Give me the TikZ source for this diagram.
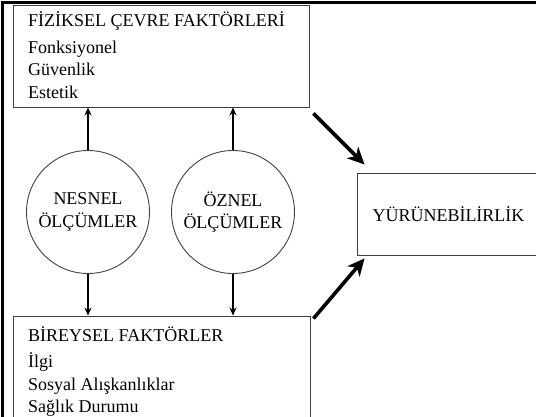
\documentclass[tikz,border=0pt]{standalone}
\usepackage{fontspec}
\setmainfont{Liberation Serif}
\usetikzlibrary{arrows.meta,calc}
\tikzset{
  box/.style={draw=black!75, line width=0.9pt, rectangle, inner sep=0pt},
  circ/.style={draw=black!75, line width=0.9pt, circle, minimum size=123pt, inner sep=0pt, align=center, font=\fontsize{18}{22.5}\selectfont},
  txt/.style={anchor=base west, inner sep=0pt, align=left, font=\fontsize{18}{22.5}\selectfont},
  thin arrow/.style={line width=1.3pt, -{Stealth[length=8pt,width=7pt]}},
  thick arrow/.style={line width=3.6pt, -{Stealth[length=17pt,width=16pt,inset=5pt]}},
}
\begin{document}
\begin{tikzpicture}[x=1pt,y=1pt]
\useasboundingbox (0,0) rectangle (536,416);
% outer frame
\draw[line width=3pt] (2.5,-5) -- (2.5,413.5) -- (540,413.5);
% boxes
\node[box, minimum width=296pt, minimum height=102pt] (fiz) at (161,360) {};
\node[txt] (fiztxt) at (28,317.5) {FİZİKSEL ÇEVRE FAKTÖRLERİ\\[5pt]Fonksiyonel\\Güvenlik\\Estetik};
\node[box, minimum width=297pt, minimum height=110pt] (bir) at (161.5,45) {};
\node[txt] (birtxt) at (28,3.5) {BİREYSEL FAKTÖRLER\\[4pt]İlgi\\Sosyal Alışkanlıklar\\Sağlık Durumu};
\node[box, minimum width=183pt, minimum height=82pt, font=\fontsize{18}{22.5}\selectfont] (yur) at (448.5,202) {YÜRÜNEBİLİRLİK};
% circles
\node[circ] (nes) at (88,204) {NESNEL\\ÖLÇÜMLER};
\node[circ] (ozn) at (233,204) {ÖZNEL\\ÖLÇÜMLER};
% arrows
\draw[thin arrow] (nes.north) -- (nes.north |- fiz.south);
\draw[thin arrow] (ozn.north) -- (ozn.north |- fiz.south);
\draw[thin arrow] (nes.south) -- (nes.south |- bir.north);
\draw[thin arrow] (ozn.south) -- (ozn.south |- bir.north);
\coordinate (a1) at ($(fiz.south east)+(4,-6)$);
\coordinate (a2) at ($(yur.north west)+(8,8)$);
\coordinate (b1) at ($(bir.north east)+(3,-3)$);
\coordinate (b2) at ($(yur.south west)+(8,-3)$);
\draw[thick arrow] (a1) -- (a2);
\draw[thick arrow] (b1) -- (b2);
\end{tikzpicture}
\end{document}
